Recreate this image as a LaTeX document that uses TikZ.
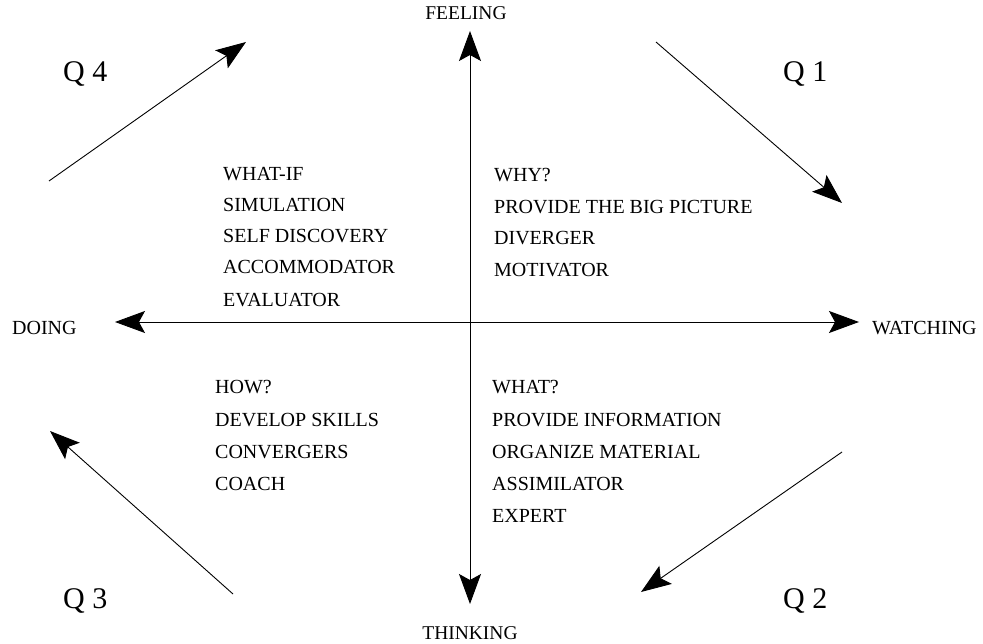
\documentclass[tikz,border=0pt]{standalone}
\usepackage{fontspec}
\setmainfont{Liberation Serif}
\usetikzlibrary{arrows.meta}
\begin{document}
\begin{tikzpicture}[x=1pt,y=-1pt,
  lbl/.style={anchor=base west,inner sep=0pt,font=\fontsize{20}{24}\selectfont},
  axlbl/.style={anchor=base,inner sep=0pt,font=\fontsize{19.5}{22}\selectfont},
  qlbl/.style={anchor=base west,inner sep=0pt,font=\fontsize{30}{34}\selectfont},
  arr/.style={line width=0.9pt,-{Stealth[length=30pt,width=22pt,inset=6pt]}}]
\useasboundingbox (0,0) rectangle (983,644);
% axis end points
\coordinate (top) at (470,31);
\coordinate (bot) at (470,604);
\coordinate (left) at (115,322);
\coordinate (right) at (859,322);
\coordinate (ctr) at (470,322);
\draw[arr] (ctr) -- (top);
\draw[arr] (ctr) -- (bot);
\draw[arr] (ctr) -- (left);
\draw[arr] (ctr) -- (right);
% axis labels
\node[axlbl] (feel) at (466,20) {FEELING};
\node[axlbl] (think) at (470,639) {THINKING};
\node[lbl] (doing) at (12,335) {DOING};
\node[lbl] (watch) at (872,335) {WATCHING};
% quadrant labels
\node[qlbl] (q4) at (63,82) {Q 4};
\node[qlbl] (q1) at (783,82) {Q 1};
\node[qlbl] (q3) at (63,608) {Q 3};
\node[qlbl] (q2) at (783,608) {Q 2};
% diagonal arrows
\coordinate (d4a) at (49,181);  \coordinate (d4b) at (246,42);
\coordinate (d1a) at (656,42);  \coordinate (d1b) at (842,203);
\coordinate (d2a) at (842,452); \coordinate (d2b) at (641,592);
\coordinate (d3a) at (233,594); \coordinate (d3b) at (50,431);
\draw[arr] (d4a) -- (d4b);
\draw[arr] (d1a) -- (d1b);
\draw[arr] (d2a) -- (d2b);
\draw[arr] (d3a) -- (d3b);
% Q1 text
\node[lbl] (a1) at (494,182) {WHY?};
\node[lbl] (a2) at (494,214) {PROVIDE THE BIG PICTURE};
\node[lbl] (a3) at (494,245) {DIVERGER};
\node[lbl] (a4) at (494,277) {MOTIVATOR};
% Q4 text
\node[lbl] (b1) at (223,181) {WHAT-IF};
\node[lbl] (b2) at (223,212) {SIMULATION};
\node[lbl] (b3) at (223,243) {SELF DISCOVERY};
\node[lbl] (b4) at (223,274) {ACCOMMODATOR};
\node[lbl] (b5) at (223,307) {EVALUATOR};
% Q2 text
\node[lbl] (c1) at (492,394) {WHAT?};
\node[lbl] (c2) at (492,426) {PROVIDE INFORMATION};
\node[lbl] (c3) at (492,458) {ORGANIZE MATERIAL};
\node[lbl] (c4) at (492,490) {ASSIMILATOR};
\node[lbl] (c5) at (492,522) {EXPERT};
% Q3 text
\node[lbl] (e1) at (215,394) {HOW?};
\node[lbl] (e2) at (215,426) {DEVELOP SKILLS};
\node[lbl] (e3) at (215,458) {CONVERGERS};
\node[lbl] (e4) at (215,490) {COACH};
\end{tikzpicture}
\end{document}
